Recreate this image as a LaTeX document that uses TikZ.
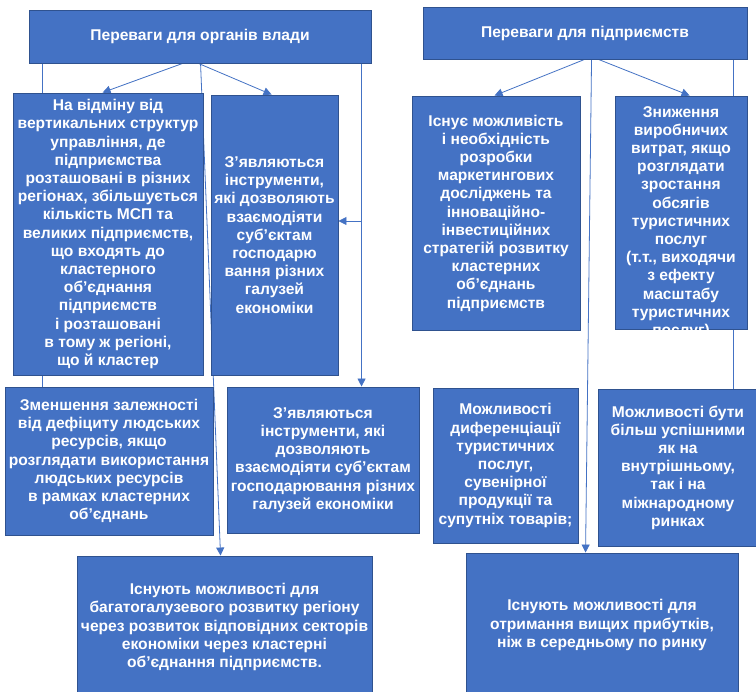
\documentclass[tikz,border=0pt]{standalone}
\usepackage{fontspec}
\setmainfont{Liberation Sans}
\usetikzlibrary{arrows.meta,backgrounds}
\definecolor{boxfill}{HTML}{4472C4}
\definecolor{boxline}{HTML}{2F528F}
\definecolor{lineblue}{HTML}{4472C4}
\begin{document}
\begin{tikzpicture}[x=1pt,y=-1pt,
  boxtxt/.style={text=white, align=center, inner sep=0pt,
    font=\bfseries\fontsize{15.6}{18.2}\selectfont},
  box/.style={boxtxt, fill=boxfill, draw=boxline, line width=0.9pt},
  conn/.style={draw=lineblue, line width=0.8pt},
  arr/.style={conn, -{Triangle[length=8pt,width=8pt]}}]
\useasboundingbox (0,0) rectangle (756,692);
\clip (0,0) rectangle (756,692);

% top boxes
\node[box, minimum width=342, minimum height=53] (tl) at (200,36.5) {Переваги для органів влади};
\node[box, minimum width=324, minimum height=52] (tr) at (585,33) {Переваги для підприємств};

% left column
\node[box, minimum width=190, minimum height=282] (A) at (108,234) {На відміну від\\вертикальних структур\\управління, де\\підприємства\\розташовані в різних\\регіонах, збільшується\\кількість МСП та\\великих підприємств,\\що входять до\\кластерного\\об'єднання\\підприємств\\і розташовані\\в тому ж регіоні,\\що й кластер};
\node[box, minimum width=127, minimum height=280] (B) at (274.5,235) {З’являються\\інструменти,\\які дозволяють\\взаємодіяти\\суб’єктам\\господарю\\вання різних\\галузей\\економіки};
\node[box, minimum width=208, minimum height=148] (C) at (109,461) {Зменшення залежності\\від дефіциту людських\\ресурсів, якщо\\розглядати використання\\людських ресурсів\\в рамках кластерних\\об'єднань};
\node[box, minimum width=192, minimum height=146] (D) at (323,460) {З’являються\\інструменти, які\\дозволяють\\взаємодіяти суб'єктам\\господарювання різних\\галузей економіки};
\node[box, minimum width=295, minimum height=142] (E) at (224.5,627) {Існують можливості для\\багатогалузевого розвитку регіону\\через розвиток відповідних секторів\\економіки через кластерні\\об'єднання підприємств.};

% right column
\node[box, minimum width=168, minimum height=234] (F) at (496,213) {Існує можливість\\і необхідність\\розробки\\маркетингових\\досліджень та\\інноваційно-\\інвестиційних\\стратегій розвитку\\кластерних\\об'єднань\\підприємств};
\node[box, minimum width=132, minimum height=233] (G) at (681,212.5) {};
\begin{scope}
  \clip (G.south west) rectangle (G.north east);
  \node[boxtxt] (Gt) at ([yshift=-10pt]G.center) {Зниження\\виробничих\\витрат, якщо\\розглядати\\зростання\\обсягів\\туристичних\\послуг\\(т.т., виходячи\\з ефекту\\масштабу\\туристичних\\послуг)};
\end{scope}
\node[box, minimum width=145, minimum height=155] (H) at (505.5,465.5) {Можливості\\диференціації\\туристичних\\послуг,\\сувенірної\\продукції та\\супутніх товарів;};
\node[box, minimum width=160, minimum height=157] (I) at (678,467.5) {Можливості бути\\більш успішними\\як на\\внутрішньому,\\так і на\\міжнародному\\ринках};
\node[box, minimum width=272, minimum height=144] (J) at (602,625) {Існують можливості для\\отримання вищих прибутків,\\ніж в середньому по ринку};

% connectors (behind boxes)
\begin{scope}[on background layer]
  \fill[white] (0,0) rectangle (756,692);
  \coordinate (v1) at ([xshift=333pt]tl.south west);
  \coordinate (bE) at ([yshift=14pt]B.east);
  \coordinate (jB) at (v1 |- bE);
  \draw[conn] ([xshift=14pt]tl.south west) -- ([xshift=38pt]C.north west);
  \draw[arr] ([xshift=154pt]tl.south west) -- ([xshift=90pt]A.north west);
  \draw[arr] ([xshift=170pt]tl.south west) -- ([xshift=61pt]B.north west);
  \draw[arr] ([xshift=172pt]tl.south west) -- ([xshift=144pt]E.north west);
  \draw[arr] (v1) -- ([xshift=135pt]D.north west);
  \draw[arr] (jB) -- (bE);
  \draw[arr] ([xshift=162pt]tr.south west) -- ([xshift=83pt]F.north west);
  \draw[arr] ([xshift=176pt]tr.south west) -- ([xshift=75pt]G.north west);
  \draw[arr] ([xshift=169pt]tr.south west) -- ([xshift=120pt]J.north west);
  \draw[conn] ([xshift=311pt]tr.south west) -- ([xshift=136pt]I.north west);
\end{scope}
\end{tikzpicture}
\end{document}
